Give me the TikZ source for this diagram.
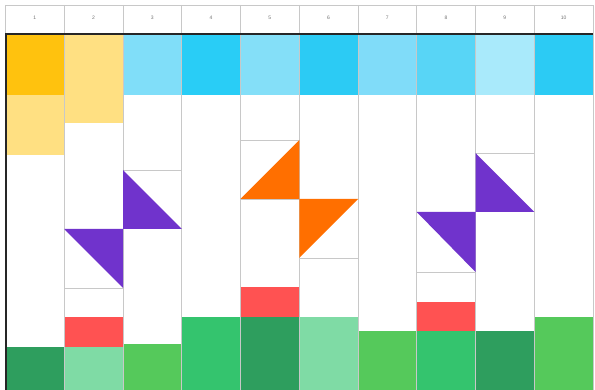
\documentclass[tikz,border=0pt]{standalone}
\usepackage{fontspec}
\setmainfont{Liberation Sans}
\definecolor{amber}{HTML}{FFC20E}
\definecolor{ltyel}{HTML}{FFE082}
\definecolor{bA}{HTML}{80DEF9}
\definecolor{bB}{HTML}{29CDF6}
\definecolor{bC}{HTML}{84DFF8}
\definecolor{bD}{HTML}{2CCBF4}
\definecolor{bE}{HTML}{80DCF9}
\definecolor{bF}{HTML}{58D5F6}
\definecolor{bG}{HTML}{A9EAFB}
\definecolor{purp}{HTML}{7033CC}
\definecolor{orng}{HTML}{FF6F00}
\definecolor{redc}{HTML}{FF5252}
\definecolor{gDark}{HTML}{2E9E5E}
\definecolor{gLight}{HTML}{7FDBA5}
\definecolor{gLime}{HTML}{55C95B}
\definecolor{gEm}{HTML}{34C46E}
\definecolor{gridc}{HTML}{C8C8C8}
\tikzset{
  cell/.style={draw=none},
  gline/.style={draw=gridc, line width=0.8pt},
  hdr/.style={font=\fontsize{5}{6}\selectfont, text=black!55, inner sep=0pt},
  frame/.style={draw=black!85, line width=2pt}
}
\begin{document}
\begin{tikzpicture}[x=1pt,y=-1pt]
\useasboundingbox (0,0) rectangle (595,390);
\fill[white] (0,0) rectangle (595,390);
% column boundaries
\def\cx#1{\fpeval{5.5+58.75*(#1)}}
% fills per column: top colours
\fill[amber] (\cx{0},34) rectangle (\cx{1},95);
\fill[ltyel] (\cx{0},95) rectangle (\cx{1},155);
\fill[ltyel] (\cx{1},34) rectangle (\cx{2},123);
\fill[bA] (\cx{2},34) rectangle (\cx{3},95);
\fill[bB] (\cx{3},34) rectangle (\cx{4},95);
\fill[bC] (\cx{4},34) rectangle (\cx{5},95);
\fill[bD] (\cx{5},34) rectangle (\cx{6},95);
\fill[bE] (\cx{6},34) rectangle (\cx{7},95);
\fill[bF] (\cx{7},34) rectangle (\cx{8},95);
\fill[bG] (\cx{8},34) rectangle (\cx{9},95);
\fill[bD] (\cx{9},34) rectangle (\cx{10},95);
% bottom colours
\fill[gDark] (\cx{0},347) rectangle (\cx{1},390);
\fill[redc] (\cx{1},317) rectangle (\cx{2},347);
\fill[gLight] (\cx{1},347) rectangle (\cx{2},390);
\fill[gLime] (\cx{2},344) rectangle (\cx{3},390);
\fill[gEm] (\cx{3},317) rectangle (\cx{4},390);
\fill[redc] (\cx{4},287) rectangle (\cx{5},317);
\fill[gDark] (\cx{4},317) rectangle (\cx{5},390);
\fill[gLight] (\cx{5},317) rectangle (\cx{6},390);
\fill[gLime] (\cx{6},331) rectangle (\cx{7},390);
\fill[redc] (\cx{7},302) rectangle (\cx{8},331);
\fill[gEm] (\cx{7},331) rectangle (\cx{8},390);
\fill[gDark] (\cx{8},331) rectangle (\cx{9},390);
\fill[gLime] (\cx{9},317) rectangle (\cx{10},390);
% grid lines
\foreach \i in {1,...,10} {
  \draw[gline] (\cx{\i},5) -- (\cx{\i},390);
}
\draw[gline] (\cx{0},5) -- (\cx{0},34);
\draw[gline] (\cx{0},5) -- (\cx{10},5);
% small cell lines
\draw[gline] (\cx{2},170) -- (\cx{3},170);
\draw[gline] (\cx{1},229) -- (\cx{2},229);
\draw[gline] (\cx{1},288) -- (\cx{2},288);
\draw[gline] (\cx{4},140) -- (\cx{5},140);
\draw[gline] (\cx{4},199) -- (\cx{5},199);
\draw[gline] (\cx{5},258) -- (\cx{6},258);
\draw[gline] (\cx{8},153) -- (\cx{9},153);
\draw[gline] (\cx{7},212) -- (\cx{8},212);
\draw[gline] (\cx{7},272) -- (\cx{8},272);
% triangles
\fill[purp] (\cx{2},170) -- (\cx{2},229) -- (\cx{3},229) -- cycle;
\fill[purp] (\cx{1},229) -- (\cx{2},229) -- (\cx{2},288) -- cycle;
\fill[orng] (\cx{4},199) -- (\cx{5},140) -- (\cx{5},199) -- cycle;
\fill[orng] (\cx{5},199) -- (\cx{6},199) -- (\cx{5},258) -- cycle;
\fill[purp] (\cx{8},153) -- (\cx{8},212) -- (\cx{9},212) -- cycle;
\fill[purp] (\cx{7},212) -- (\cx{8},212) -- (\cx{8},272) -- cycle;
% header labels
\foreach \i in {1,...,10} {
  \node[hdr] (h\i) at ({5.5+58.75*(\i-0.5)},18) {\i};
}
% frame
\draw[frame] (\cx{0},390) -- (\cx{0},34) -- (\cx{10},34);
\end{tikzpicture}
\end{document}
